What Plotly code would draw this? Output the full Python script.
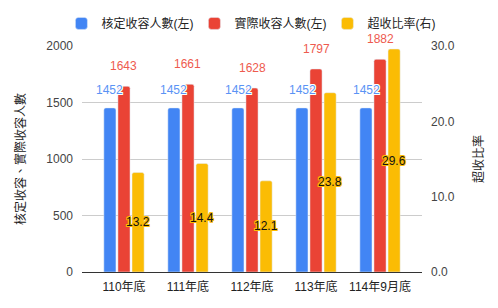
import plotly.graph_objects as go

categories = ["110年底", "111年底", "112年底", "113年底", "114年9月底"]
approved = [1452, 1452, 1452, 1452, 1452]
actual = [1643, 1661, 1628, 1797, 1882]
ratio = [13.2, 14.4, 12.1, 23.8, 29.6]

BLUE = "#4285F4"
RED = "#EA4335"
YELLOW = "#FBBC04"
FONT = "Liberation Sans, Arial, Noto Sans CJK TC, sans-serif"

fig = go.Figure()
fig.add_trace(go.Bar(x=categories, y=approved, name="核定收容人數(左)", marker_color=BLUE,
                     marker_cornerradius=2, offsetgroup="a", yaxis="y"))
fig.add_trace(go.Bar(x=categories, y=actual, name="實際收容人數(左)", marker_color=RED,
                     marker_cornerradius=2, offsetgroup="b", yaxis="y"))
fig.add_trace(go.Bar(x=categories, y=ratio, name="超收比率(右)", marker_color=YELLOW,
                     marker_cornerradius=2, offsetgroup="c", yaxis="y2"))

white_halo = "1px 0 0 #fff, -1px 0 0 #fff, 0 1px 0 #fff, 0 -1px 0 #fff, 1px 1px 0 #fff, -1px -1px 0 #fff, 1px -1px 0 #fff, -1px 1px 0 #fff"
yel_halo = "1px 0 0 #FBBC04, -1px 0 0 #FBBC04, 0 1px 0 #FBBC04, 0 -1px 0 #FBBC04, 1px 1px 0 #FBBC04, -1px -1px 0 #FBBC04, 1px -1px 0 #FBBC04, -1px 1px 0 #FBBC04"

annotations = []
for c, a, b, r in zip(categories, approved, actual, ratio):
    annotations.append(dict(x=c, y=a, xref="x", yref="y", text=str(a), showarrow=False,
                            xshift=-14, yshift=18, font=dict(family=FONT, size=12, color="#5A93F5", shadow=white_halo)))
    annotations.append(dict(x=c, y=b, xref="x", yref="y", text=str(b), showarrow=False,
                            xshift=0, yshift=20, font=dict(family=FONT, size=12, color="#EE5A4E", shadow=white_halo)))
    annotations.append(dict(x=c, y=r / 2, xref="x", yref="y2", text=f"{r:.1f}", showarrow=False,
                            xshift=14, yshift=0, font=dict(family=FONT, size=12, color="#111", shadow=yel_halo)))

fig.update_layout(
    width=498, height=308,
    margin=dict(l=82, r=76, t=46, b=36, autoexpand=False),
    paper_bgcolor="white", plot_bgcolor="white",
    font=dict(family=FONT, size=12, color="#222"),
    bargap=0.34, bargroupgap=0.14,
    barmode="group",
    legend=dict(orientation="h", x=1.113, xanchor="right",
                y=1.10, yanchor="middle",
                font=dict(size=12, color="#222"), itemwidth=30,
                entrywidth=88, entrywidthmode="pixels",
                traceorder="normal"),
    xaxis=dict(type="category", range=[-0.656, 4.656], showgrid=False, showline=False,
               ticks="", ticklabelstandoff=6, tickfont=dict(size=12, color="#222")),
    yaxis=dict(range=[0, 2000], dtick=500, showgrid=True, gridcolor="#cccccc", gridwidth=1,
               zeroline=True, zerolinecolor="#333333", zerolinewidth=1,
               tickfont=dict(size=12, color="#444"), ticks="", ticklabelstandoff=8,
               title=dict(text="核定收容、實際收容人數", font=dict(size=12, color="#222"), standoff=18)),
    yaxis2=dict(range=[0, 30], dtick=10, tickformat=".1f", overlaying="y", side="right",
                showgrid=False, zeroline=False, ticks="", ticklabelstandoff=8,
                tickfont=dict(size=12, color="#444"),
                title=dict(text="超收比率", font=dict(size=12, color="#222"), standoff=20)),
    annotations=annotations,
)
fig.write_html("out.html")
